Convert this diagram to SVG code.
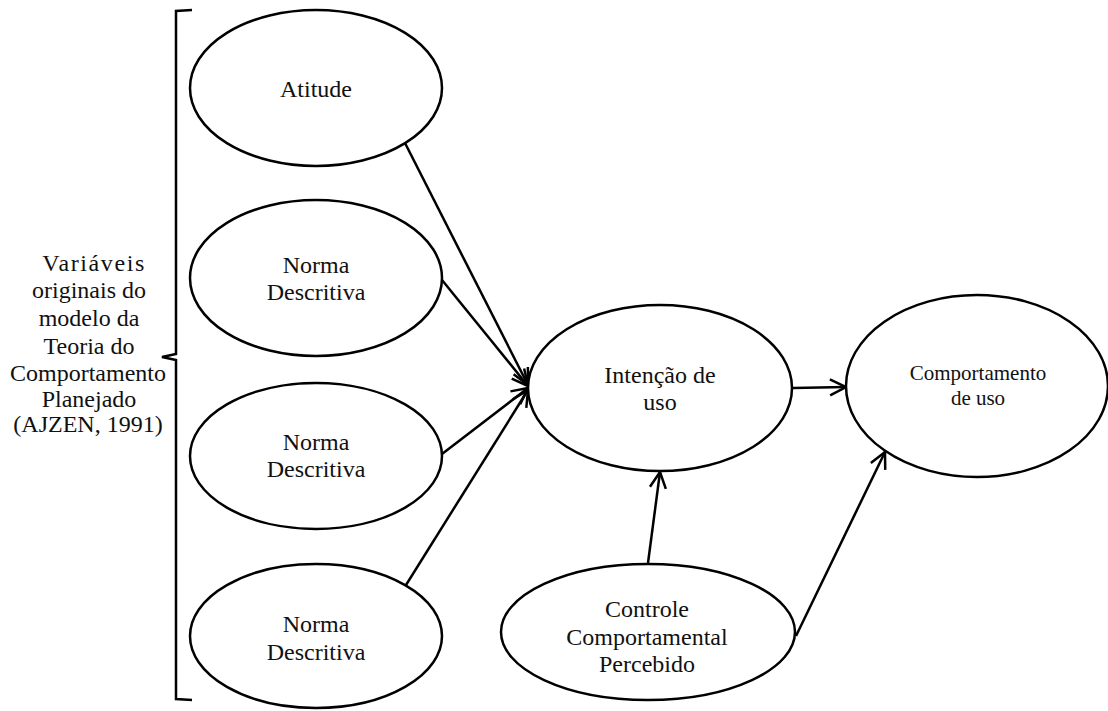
<svg xmlns="http://www.w3.org/2000/svg" width="1108" height="711" viewBox="0 0 1108 711">
<style>
.n{fill:#fff;stroke:#000;stroke-width:2.5}
.t{font-family:"Liberation Serif","Times New Roman",serif;font-size:24px;fill:#111;text-anchor:middle}
.s{font-size:21px}
.c{fill:none;stroke:#000;stroke-width:2.5}
</style>
<defs>
<marker id="a" markerUnits="userSpaceOnUse" markerWidth="22" markerHeight="22" refX="18" refY="10" orient="auto">
<path d="M2,2 L18,10 L2,18" fill="none" stroke="#000" stroke-width="2.5"/>
</marker>
</defs>
<rect width="1108" height="711" fill="#fff"/>
<g id="bracket">
<path class="c" d="M192,10 L176,11 L176,354 L162,357 L176,360 L176,699 L192,700" stroke-width="2"/>
</g>
<g id="label">
<text class="t"><tspan x="94" y="271" letter-spacing="1.6">Variáveis</tspan><tspan x="89" y="298">originais do</tspan><tspan x="89" y="326">modelo da</tspan><tspan x="89" y="353.5">Teoria do</tspan><tspan x="88" y="381">Comportamento</tspan><tspan x="89" y="407">Planejado</tspan><tspan x="88" y="432">(AJZEN, 1991)</tspan></text>
</g>
<g id="connectors">
<line class="c" x1="405" y1="143" x2="528" y2="385" marker-end="url(#a)"/>
<line class="c" x1="442" y1="280" x2="528" y2="386" marker-end="url(#a)"/>
<line class="c" x1="442" y1="454" x2="528" y2="388" marker-end="url(#a)"/>
<line class="c" x1="406" y1="585" x2="528" y2="390" marker-end="url(#a)"/>
<line class="c" x1="793" y1="388" x2="846" y2="387" marker-end="url(#a)"/>
<line class="c" x1="648" y1="563" x2="660" y2="472" marker-end="url(#a)"/>
<line class="c" x1="796" y1="636" x2="885" y2="452" marker-end="url(#a)"/>
</g>
<g id="atitude">
<ellipse class="n" cx="316" cy="88" rx="126" ry="78"/>
<text class="t" x="316" y="97">Atitude</text>
</g>
<g id="norma1">
<ellipse class="n" cx="316" cy="278" rx="126" ry="78"/>
<text class="t"><tspan x="316" y="273">Norma</tspan><tspan x="316" y="300">Descritiva</tspan></text>
</g>
<g id="norma2">
<ellipse class="n" cx="316" cy="456" rx="126" ry="73"/>
<text class="t"><tspan x="316" y="450">Norma</tspan><tspan x="316" y="477">Descritiva</tspan></text>
</g>
<g id="norma3">
<ellipse class="n" cx="316" cy="636" rx="126" ry="72"/>
<text class="t"><tspan x="316" y="632">Norma</tspan><tspan x="316" y="660">Descritiva</tspan></text>
</g>
<g id="intencao">
<ellipse class="n" cx="660" cy="388" rx="132" ry="83"/>
<text class="t"><tspan x="660" y="383">Intenção de</tspan><tspan x="660" y="410">uso</tspan></text>
</g>
<g id="comportamento">
<ellipse class="n" cx="977" cy="386" rx="131" ry="91"/>
<text class="t s"><tspan x="978" y="380">Comportamento</tspan><tspan x="978" y="405">de uso</tspan></text>
</g>
<g id="controle">
<ellipse class="n" cx="648" cy="632" rx="147" ry="68"/>
<text class="t"><tspan x="647" y="617">Controle</tspan><tspan x="647" y="645">Comportamental</tspan><tspan x="647" y="672">Percebido</tspan></text>
</g>
</svg>
